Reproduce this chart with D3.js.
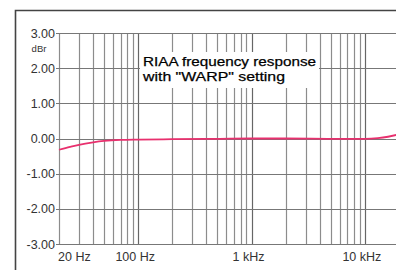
<!DOCTYPE html>
<meta charset="utf-8">
<script src="https://d3js.org/d3.v7.min.js"></script>
<style>
  body { margin: 0; background: #fff; }
  svg { display: block; font-family: "Liberation Sans", Arial, sans-serif; }
</style>
<div id="riaa"></div>
<script>

// response readings (Hz, dBr)
var freqs = [20, 25, 30, 40, 50, 70, 100, 200, 500, 1000, 2000, 5000, 10000, 13000, 16000, 20000]
var levels = [-0.32, -0.24, -0.18, -0.11, -0.07, -0.04, -0.03, -0.02, -0.01, 0.0, 0.0, -0.01, -0.01, 0.01, 0.05, 0.12]

var yTicks = [-3, -2, -1, 0, 1, 2, 3]
var xLabels = [[20, "20 Hz"], [100, "100 Hz"], [1000, "1 kHz"], [10000, "10 kHz"]]
var caption = ["RIAA frequency response", "with \"WARP\" setting"]
var gridFreqs = []
;[10, 100, 1000, 10000].forEach(function (dec) {
  for (var k = 1; k <= 9; k++) {
    var f = dec * k
    if (f >= 20 && f <= 20000) gridFreqs.push(f)
  }
})
gridFreqs.push(20000)

var w = 396, h = 270
var margin = {top: 33, left: 59, bottom: 26}

var svg = d3.select("#riaa")
  .append("svg")
    .attr("width", w)
    .attr("height", h)

// outer frame
svg.append("path")
  .attr("d", "M15.5," + h + "V10.5H" + w)
  .attr("fill", "none")
  .attr("stroke", "#444")
  .attr("stroke-width", 1.6)

var x = d3.scaleLog()
  .domain([20, 20000])
  .range([margin.left, 399])

var y = d3.scaleLinear()
  .domain([-3, 3])
  .range([h - margin.bottom, margin.top])

var grid = svg.append("g")

grid.selectAll("line.v")
  .data(gridFreqs)
  .enter()
  .append("line")
    .attr("class", "v")
    .attr("x1", d => Math.round(x(d)) + 0.5)
    .attr("x2", d => Math.round(x(d)) + 0.5)
    .attr("y1", y(3))
    .attr("y2", y(-3) + 1)
    .attr("stroke", d => (Math.log10(d) % 1 === 0) ? "#666" : "#8c8c8c")
    .attr("stroke-width", 1.2)

grid.selectAll("line.h")
  .data(yTicks)
  .enter()
  .append("line")
    .attr("class", "h")
    .attr("x1", margin.left - 3)
    .attr("x2", w)
    .attr("y1", d => Math.round(y(d)) + 0.5)
    .attr("y2", d => Math.round(y(d)) + 0.5)
    .attr("stroke", "#777")
    .attr("stroke-width", 1.2)

// white box behind the caption
svg.append("rect")
  .attr("x", 140)
  .attr("y", 52)
  .attr("width", 179)
  .attr("height", 36)
  .attr("fill", "#fff")

svg.selectAll("text.cap")
  .data(caption)
  .enter()
  .append("text")
    .attr("class", "cap")
    .attr("x", 143)
    .attr("y", (d, i) => 65.5 + i * 15)
    .attr("font-size", "13.5px")
    .attr("fill", "#000")
    .attr("stroke", "#000")
    .attr("stroke-width", 0.25)
    .attr("textLength", (d, i) => i === 0 ? 173 : 142)
    .attr("lengthAdjust", "spacingAndGlyphs")
    .text(d => d)

// y labels
svg.selectAll("text.ylab")
  .data(yTicks)
  .enter()
  .append("text")
    .attr("class", "ylab")
    .attr("x", 55)
    .attr("y", d => y(d) + 4.5)
    .attr("text-anchor", "end")
    .attr("font-size", "12.5px")
    .attr("fill", "#333")
    .text(d => d.toFixed(2))

svg.append("text")
  .attr("x", 39)
  .attr("y", 52)
  .attr("text-anchor", "middle")
  .attr("font-size", "9.5px")
  .attr("fill", "#333")
  .text("dBr")

// x labels
svg.selectAll("text.xlab")
  .data(xLabels)
  .enter()
  .append("text")
    .attr("class", "xlab")
    .attr("x", (d, i) => i === 0 ? x(d[0]) - 1 : x(d[0]) - 3)
    .attr("y", 261)
    .attr("text-anchor", (d, i) => i === 0 ? "start" : "middle")
    .attr("font-size", "12.5px")
    .attr("fill", "#333")
    .text(d => d[1])

// response curve
var pts = freqs.map((f, i) => [f, levels[i]])
svg.append("path")
  .datum(pts)
  .attr("fill", "none")
  .attr("stroke", "#e8306e")
  .attr("stroke-width", 1.8)
  .attr("d", d3.line()
    .x(d => x(d[0]))
    .y(d => y(d[1]))
    .curve(d3.curveMonotoneX))

</script>
